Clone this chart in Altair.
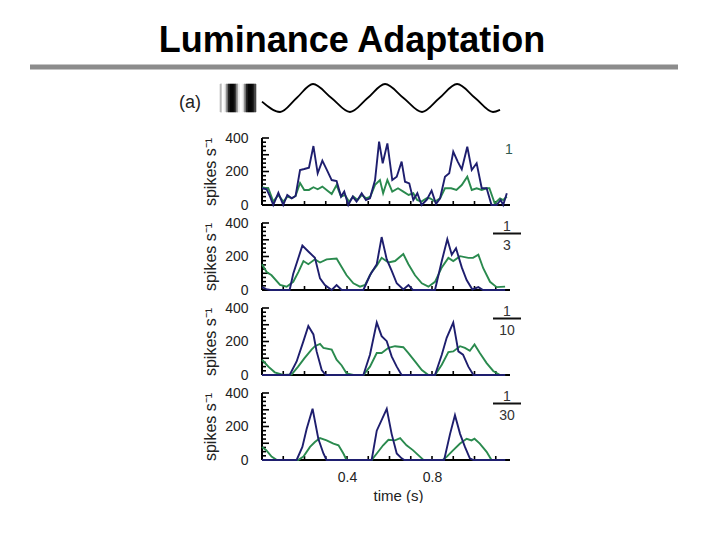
import altair as alt
import pandas as pd

FONT = "Liberation Sans"
NAVY = "#1e1e6e"
GREEN = "#2a8a4e"

TITLE = ["Luminance Adaptation"]
PANEL_TAG = ["(a)"]
X_TITLE = "time (s)"
Y_TITLE = "spikes s\u207b\u00b9"
X_MAX = 1.167
X_LABEL_VALUES = [0.4, 0.8]
Y_LABEL_VALUES = [0, 200, 400]
X_TICKS = [0.1, 0.2, 0.3, 0.4, 0.5, 0.6, 0.7, 0.8, 0.9, 1.0, 1.1]
Y_MAJOR_TICKS = [0, 100, 200, 300, 400]
Y_MINOR_TICKS = [25, 50, 75, 125, 150, 175, 225, 250, 275, 325, 350, 375]

# grating luminance (columns, left to right)
GRATING_LUM = [0.75, 1.0, 0.95, 0.6, 0.15, 0.02, 0.02, 0.1, 0.55,
               0.92, 1.0, 0.95, 0.6, 0.15, 0.02, 0.02, 0.05, 0.3]

# stimulus sinusoid (read at peaks / troughs / crossings)
SINE_T = [0.0, 0.085, 0.163, 0.24, 0.327, 0.414, 0.497, 0.579, 0.666,
          0.753, 0.835, 0.918, 1.003, 1.087, 1.12]
SINE_V = [-0.26, -1, 0, 1, 0, -1, 0, 1, 0, -1, 0, 1, 0, -1, -0.85]

# contrast labels
RATIO_NUM = ["1", "1", "1", "1"]
RATIO_DEN = ["", "3", "10", "30"]

# panel 1 (contrast 1)
P1_NAVY_T = [0, .022, .038, .053, .077, .100, .119, .140, .158, .179, .199, .221,
             .242, .262, .284, .304, .328, .351, .372, .387, .406, .427, .445, .469,
             .489, .508, .532, .551, .568, .59, .613, .634, .657, .673, .693, .712,
             .731, .751, .775, .798, .819, .838, .861, .881, .90, .921, .94, .966,
             .987, 1.01, 1.034, 1.057, 1.08, 1.104, 1.123, 1.135, 1.152]
P1_NAVY_V = [100, 94, 50, 0, 73, 0, 60, 40, 54, 209, 215, 223, 352, 189, 265, 213,
             149, 143, 50, 80, 0, 50, 20, 70, 30, 40, 149, 378, 249, 368, 149, 169,
             259, 139, 129, 30, 70, 0, 30, 86, 6, 40, 169, 189, 318, 259, 213, 348,
             209, 249, 100, 100, 0, 0, 30, 0, 70]
P1_GREEN_T = [0, .03, .053, .077, .10, .12, .14, .158, .179, .199, .221, .242, .262,
              .284, .304, .328, .351, .372, .39, .41, .43, .45, .47, .49, .51, .532,
              .555, .57, .59, .613, .64, .665, .69, .712, .73, .75, .775, .79, .815,
              .838, .861, .89, .915, .94, .966, .987, 1.01, 1.034, 1.057, 1.07, 1.095,
              1.12, 1.135, 1.152]
P1_GREEN_V = [105, 100, 20, 60, 20, 50, 40, 54, 131, 90, 90, 106, 94, 110, 90, 66,
              119, 50, 60, 20, 50, 30, 60, 40, 50, 120, 149, 70, 149, 80, 100, 80, 60,
              70, 30, 20, 40, 40, 20, 40, 100, 100, 90, 119, 169, 90, 100, 90, 100,
              100, 10, 40, 30, 50]

# panel 2 (contrast 1/3)
P2_NAVY_T = [0, .02, .04, .13, .147, .19, .218, .249, .273, .296, .328, .351, .375,
             .477, .508, .54, .563, .587, .61, .634, .665, .689, .71, .814, .846, .872,
             .893, .913, .94, .963, .99, 1.018, 1.04, 1.144]
P2_NAVY_V = [17, 5, 0, 0, 97, 265, 230, 192, 69, 30, 0, 30, 0, 0, 88, 154, 316, 183,
             116, 40, 3, 30, 0, 0, 173, 303, 211, 249, 135, 59, 3, 17, 0, 0]
P2_GREEN_T = [0, .022, .045, .085, .116, .147, .171, .195, .218, .249, .273, .304,
              .351, .367, .398, .43, .461, .485, .516, .54, .563, .595, .626, .665,
              .689, .72, .752, .783, .814, .846, .877, .9, .932, .971, .993, 1.018,
              1.041, 1.073, 1.104, 1.144]
P2_GREEN_V = [154, 107, 88, 30, 20, 49, 107, 173, 154, 183, 164, 183, 188, 154, 88,
              40, 20, 30, 107, 145, 192, 164, 173, 215, 154, 88, 40, 20, 49, 135, 192,
              173, 202, 192, 192, 211, 130, 49, 17, 20]

# panel 3 (contrast 1/10)
P3_NAVY_T = [0, .13, .163, .195, .218, .242, .257, .281, .30, .477, .508, .54, .563,
             .587, .61, .634, .657, .814, .846, .869, .90, .924, .946, .971, .995, 1.144]
P3_NAVY_V = [0, 0, 81, 202, 293, 242, 141, 30, 0, 0, 121, 313, 232, 202, 111, 50, 0,
             0, 121, 222, 313, 141, 121, 50, 0, 0]
P3_GREEN_T = [0, .03, .06, .10, .14, .17, .20, .233, .249, .273, .289, .328, .351,
              .375, .398, .43, .477, .508, .54, .563, .595, .626, .665, .689, .72, .752,
              .783, .814, .846, .877, .90, .932, .955, .978, 1.0, 1.025, 1.057, 1.088,
              1.12, 1.144]
P3_GREEN_V = [91, 50, 16, 0, 4, 50, 101, 152, 172, 186, 162, 152, 91, 57, 10, 0, 0,
              50, 131, 131, 162, 172, 166, 131, 81, 30, 0, 0, 61, 137, 141, 172, 162,
              145, 182, 131, 71, 24, 0, 0]

# panel 4 (contrast 1/30)
P4_NAVY_T = [0, .163, .19, .21, .238, .265, .289, .304, .516, .54, .587, .61, .634,
             .657, .67, .857, .885, .908, .932, .955, .978, .995, 1.144]
P4_NAVY_V = [0, 0, 78, 185, 306, 127, 39, 0, 0, 175, 306, 156, 39, 10, 0, 0, 156, 267,
             156, 78, 10, 0, 0]
P4_GREEN_T = [0, .02, .045, .07, .17, .195, .226, .249, .273, .304, .336, .36, .383,
              .398, .516, .54, .57, .595, .626, .65, .68, .71, .743, .76, .85, .87, .9,
              .932, .963, .986, 1.0, 1.025, 1.057, 1.08, 1.144]
P4_GREEN_V = [78, 59, 20, 0, 0, 20, 78, 107, 131, 117, 98, 88, 39, 0, 0, 39, 88, 121,
              117, 131, 88, 59, 20, 0, 0, 20, 59, 98, 127, 117, 127, 98, 49, 0, 0]

PANELS = [
    (P1_NAVY_T, P1_NAVY_V, P1_GREEN_T, P1_GREEN_V),
    (P2_NAVY_T, P2_NAVY_V, P2_GREEN_T, P2_GREEN_V),
    (P3_NAVY_T, P3_NAVY_V, P3_GREEN_T, P3_GREEN_V),
    (P4_NAVY_T, P4_NAVY_V, P4_GREEN_T, P4_GREEN_V),
]

W = 248
H = 67
HEADER_H = 28


def one(**kw):
    return pd.DataFrame({k: [v] for k, v in kw.items()})


# ---------------- header ----------------
anchor = alt.Chart(one(k=0)).mark_rect(color="white").encode(
    x=alt.value(-254), x2=alt.value(-253), y=alt.value(-76), y2=alt.value(-75))
title = alt.Chart(pd.DataFrame({"label": TITLE})).mark_text(
    font=FONT, fontSize=36, fontWeight="bold", align="center",
    baseline="alphabetic", color="black").encode(
    x=alt.value(90), y=alt.value(-32), text="label:N")
grey_rule = alt.Chart(one(k=0)).mark_rule(color="#8c8c8c", strokeWidth=5).encode(
    x=alt.value(-232), x2=alt.value(416), y=alt.value(-17))
tag = alt.Chart(pd.DataFrame({"label": PANEL_TAG})).mark_text(
    font=FONT, fontSize=18, align="center", baseline="middle", color="#222").encode(
    x=alt.value(-72), y=alt.value(19), text="label:N")

grating_df = pd.DataFrame({
    "gi": list(range(len(GRATING_LUM))),
    "gi2": list(range(1, len(GRATING_LUM) + 1)),
    "lum": GRATING_LUM,
})
lum_scale = alt.Scale(domain=[0, 1], range=["#000000", "#ffffff"])
grating = alt.Chart(grating_df).mark_rect(strokeWidth=0.6).encode(
    x=alt.X("gi:Q", scale=alt.Scale(domain=[0, len(GRATING_LUM)], range=[-42, -6]),
            axis=None),
    x2="gi2:Q",
    y=alt.value(0), y2=alt.value(HEADER_H),
    color=alt.Color("lum:Q", scale=lum_scale, legend=None),
    stroke=alt.Stroke("lum:Q", scale=lum_scale, legend=None),
)
sine = alt.Chart(pd.DataFrame({"t": SINE_T, "v": SINE_V})).mark_line(
    color="black", strokeWidth=1.8, interpolate="monotone").encode(
    x=alt.X("t:Q", scale=alt.Scale(domain=[0, X_MAX], nice=False, zero=False), axis=None),
    y=alt.Y("v:Q", scale=alt.Scale(domain=[-1, 1], nice=False), axis=None),
)
header = alt.layer(anchor, grey_rule, title, tag, grating, sine).resolve_scale(
    x="independent", y="independent", color="independent", stroke="independent"
).properties(width=W, height=HEADER_H)


# ---------------- panels ----------------
def make_panel(idx, navy_t, navy_v, green_t, green_v, bottom):
    xs = alt.Scale(domain=[0, X_MAX], nice=False, zero=False)
    ys = alt.Scale(domain=[0, 400], nice=False)
    if bottom:
        xaxis = alt.Axis(values=X_LABEL_VALUES, format=".1f", domain=False, ticks=False,
                         tickSize=0, grid=False, labelPadding=10, labelFont=FONT,
                         labelFontSize=14, labelColor="#222", title=X_TITLE,
                         titleFont=FONT, titleFontSize=15, titleFontWeight="normal",
                         titleColor="#222", titleX=136, titleY=35,
                         titleBaseline="middle", titleAlign="center")
    else:
        xaxis = None
    yaxis = alt.Axis(values=Y_LABEL_VALUES, domain=False, ticks=False, tickSize=0,
                     grid=False, labelPadding=14, labelFont=FONT, labelFontSize=14,
                     labelColor="#222", title=Y_TITLE, titleFont=FONT,
                     titleFontSize=16, titleFontWeight="normal", titleColor="#222",
                     titleAngle=270, titleX=-52, titleY=H / 2, titleAlign="center",
                     titleBaseline="middle")

    def X(f):
        return alt.X(f"{f}:Q", scale=xs, axis=xaxis)

    def Y(f):
        return alt.Y(f"{f}:Q", scale=ys, axis=yaxis)

    xdom = alt.Chart(one(t=0, t2=X_MAX, v=0)).mark_rule(color="black", strokeWidth=2).encode(
        x=X("t"), x2="t2:Q", y=Y("v"))
    ydom = alt.Chart(one(t=0, v=0, v2=400)).mark_rule(color="black", strokeWidth=2).encode(
        x=X("t"), y=Y("v"), y2="v2:Q")
    ymaj = alt.Chart(pd.DataFrame({"v": Y_MAJOR_TICKS})).mark_rule(
        color="black", strokeWidth=1.6).encode(y=Y("v"), x=alt.value(0), x2=alt.value(7))
    ymin = alt.Chart(pd.DataFrame({"v": Y_MINOR_TICKS})).mark_rule(
        color="black", strokeWidth=1.6).encode(y=Y("v"), x=alt.value(0), x2=alt.value(4))
    xt = alt.Chart(pd.DataFrame({"t": X_TICKS})).mark_rule(
        color="black", strokeWidth=1.6).encode(x=X("t"), y=alt.value(H), y2=alt.value(H - 4))
    green = alt.Chart(pd.DataFrame({"t": green_t, "v": green_v})).mark_line(
        color=GREEN, strokeWidth=1.9).encode(x=X("t"), y=Y("v"))
    navy = alt.Chart(pd.DataFrame({"t": navy_t, "v": navy_v})).mark_line(
        color=NAVY, strokeWidth=1.9).encode(x=X("t"), y=Y("v"))
    layers = [xdom, ydom, ymaj, ymin, xt, green, navy]

    num = RATIO_NUM[idx]
    den = RATIO_DEN[idx]
    if den:
        layers.append(alt.Chart(pd.DataFrame({"label": [num]})).mark_text(
            font=FONT, fontSize=14, align="center", baseline="middle", color="#333").encode(
            x=alt.value(245), y=alt.value(4), text="label:N"))
        layers.append(alt.Chart(one(k=0)).mark_rule(color="#111", strokeWidth=2).encode(
            x=alt.value(231), x2=alt.value(259), y=alt.value(10.5)))
        layers.append(alt.Chart(pd.DataFrame({"label": [den]})).mark_text(
            font=FONT, fontSize=14, align="center", baseline="middle", color="#333").encode(
            x=alt.value(245), y=alt.value(23), text="label:N"))
    else:
        layers.append(alt.Chart(pd.DataFrame({"label": [num]})).mark_text(
            font=FONT, fontSize=14, align="center", baseline="middle", color="#2f5a50").encode(
            x=alt.value(247), y=alt.value(12), text="label:N"))
    return alt.layer(*layers).properties(width=W, height=H)


panel_charts = [make_panel(i, *PANELS[i], bottom=(i == 3)) for i in range(4)]
panels = alt.vconcat(*panel_charts, spacing=18, bounds="flush")

chart = alt.vconcat(header, panels, spacing=26, bounds="flush").properties(
    padding=0, autosize=alt.AutoSizeParams(type="pad")
).configure_view(stroke=None)

chart.save("out.html", embed_options={"renderer": "svg", "actions": False})
